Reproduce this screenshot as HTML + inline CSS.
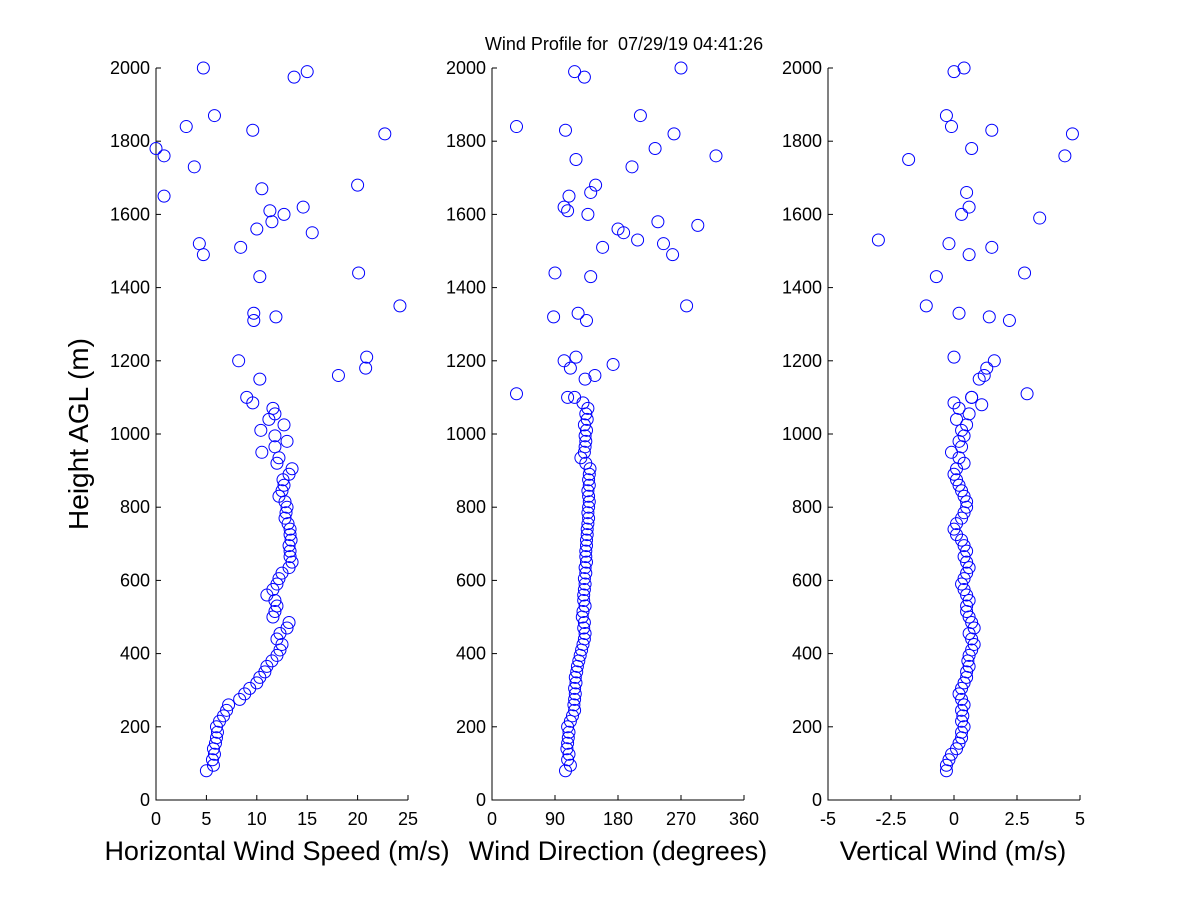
<!DOCTYPE html>
<html><head><meta charset="utf-8"><style>
body{margin:0;background:#fff;}
svg{display:block;font-family:"Liberation Sans",sans-serif;}
text{white-space:pre;}
</style></head><body>
<svg id="chart" width="1200" height="900">
<rect width="1200" height="900" fill="#fff"/>
<text x="624" y="50" font-size="18" text-anchor="middle" xml:space="preserve">Wind Profile for  07/29/19 04:41:26</text>
<text transform="translate(88,434) rotate(-90)" font-size="28" text-anchor="middle">Height AGL (m)</text>
</svg>
<script>
const lowH=[80,95,110,125,140,155,170,185,200,215,230,245,260,275,290,305,320,335,350,365,380,395,410,425,440,455,470,485,500,515,530,545,560,575,590,605,620,635,650,665,680,695,710,725,740,755,770,785,800,815,830,845,860,875,890,905,920,935,950,965,980,995,1010,1025,1040,1055,1070,1085,1100];
const speedLow=[5,5.7,5.6,5.8,5.7,5.9,6,6.1,6,6.3,6.7,7,7.2,8.3,8.8,9.3,10,10.3,10.8,11,11.5,12,12.3,12.5,12,12.3,13,13.2,11.6,11.8,12,11.8,11,11.6,12,12.2,12.5,13.2,13.5,13.3,13.3,13.2,13.4,13.3,13.3,13.1,12.8,12.9,13,12.8,12.2,12.5,12.7,12.6,13.2,13.5,12,12.2,10.5,11.8,13,11.8,10.4,12.7,11.2,11.8,11.6,9.6,9];
const dirLow=[105,112,108,110,107,108,109,110,108,112,115,118,117,118,119,118,120,119,121,122,124,126,128,130,132,133,131,132,129,130,133,131,131,132,133,132,134,133,135,134,134,135,135,136,136,137,138,137,138,139,138,137,139,138,139,140,134,127,132,133,134,133,135,132,136,134,137,130,118];
const vertLow=[-0.3,-0.3,-0.2,-0.1,0.1,0.2,0.3,0.3,0.4,0.3,0.35,0.3,0.4,0.3,0.2,0.3,0.4,0.5,0.5,0.6,0.55,0.6,0.7,0.8,0.7,0.6,0.8,0.7,0.6,0.5,0.5,0.6,0.5,0.4,0.3,0.4,0.5,0.6,0.5,0.4,0.5,0.4,0.3,0.1,0.0,0.1,0.3,0.4,0.5,0.5,0.4,0.3,0.2,0.1,0.0,0.1,0.4,0.2,-0.1,0.3,0.2,0.4,0.3,0.5,0.1,0.6,0.2,0.0,0.7];
const speedUpH=[2000,1990,1975,1870,1840,1830,1820,1780,1760,1730,1680,1670,1650,1620,1610,1600,1580,1560,1550,1520,1510,1490,1430,1440,1350,1330,1310,1320,1210,1200,1180,1160,1150];
const speedUp=[4.7,15,13.7,5.8,3,9.6,22.7,0,0.8,3.8,20,10.5,0.8,14.6,11.3,12.7,11.5,10,15.5,4.3,8.4,4.7,10.3,20.1,24.2,9.7,9.7,11.9,20.9,8.2,20.8,18.1,10.3];
const dirUpH=[1840,1830,1990,1975,2000,1870,1820,1760,1780,1750,1730,1680,1660,1650,1620,1610,1600,1560,1550,1580,1570,1510,1530,1520,1490,1430,1440,1320,1330,1310,1350,1200,1210,1190,1180,1160,1150,1110,1100];
const dirUp=[35,105,118,132,270,212,260,320,233,120,200,148,141,110,103,108,137,180,188,237,294,158,208,245,258,141,90,88,123,135,278,103,120,173,112,147,133,35,108];
const vertUpH=[1990,2000,1870,1840,1830,1820,1780,1760,1750,1660,1620,1600,1590,1530,1520,1510,1490,1430,1440,1350,1330,1320,1310,1210,1200,1180,1160,1150,1110,1080,1100];
const vertUp=[0,0.4,-0.3,-0.1,1.5,4.7,0.7,4.4,-1.8,0.5,0.6,0.3,3.4,-3,-0.2,1.5,0.6,-0.7,2.8,-1.1,0.2,1.4,2.2,0,1.6,1.3,1.2,1,2.9,1.1,0.7];
const yTicks=[0,200,400,600,800,1000,1200,1400,1600,1800,2000];
const speedTicks=[0,5,10,15,20,25];
const dirTicks=[0,90,180,270,360];
const vertTicks=[-5,-2.5,0,2.5,5];
const vertTickLabels=["-5","-2.5","0","2.5","5"];

const NS="http://www.w3.org/2000/svg";
const svg=document.getElementById('chart');
const yTop=68,yBot=800;
function yS(h){return yBot-(h/2000)*(yBot-yTop);}
function mk(tag,attrs,parent){const e=document.createElementNS(NS,tag);for(const k in attrs)e.setAttribute(k,attrs[k]);(parent||svg).appendChild(e);return e;}

const panels=[
 {name:'speed',x0:156,x1:408,min:0,max:25,ticks:speedTicks,labels:speedTicks.map(String),title:'Horizontal Wind Speed (m/s)',tx:277,
  series:[[lowH,speedLow],[speedUpH,speedUp]]},
 {name:'direction',x0:492,x1:744,min:0,max:360,ticks:dirTicks,labels:dirTicks.map(String),title:'Wind Direction (degrees)',tx:618,
  series:[[lowH,dirLow],[dirUpH,dirUp]]},
 {name:'vertical',x0:828,x1:1080,min:-5,max:5,ticks:vertTicks,labels:vertTickLabels,title:'Vertical Wind (m/s)',tx:953,
  series:[[lowH,vertLow],[vertUpH,vertUp]]}
];
panels.forEach(p=>{
 const xS=v=>p.x0+(v-p.min)/(p.max-p.min)*(p.x1-p.x0);
 const g=mk('g',{});
 
 
 const ax=mk('path',{d:`M${p.x0},${yTop}V${yBot}H${p.x1}`,stroke:'#000','stroke-width':1,fill:'none'},g);
 
 
 yTicks.forEach(t=>{
  const y=yS(t);
  mk('line',{x1:p.x0,x2:p.x0+5,y1:y,y2:y,stroke:'#000'},g);
  const tl=mk('text',{x:p.x0-6,y:y+6,'font-size':18,'text-anchor':'end'},g);
  tl.textContent=t;
  
  
 });
 p.ticks.forEach((t,i)=>{
  const x=xS(t);
  mk('line',{x1:x,x2:x,y1:yBot,y2:yBot-5,stroke:'#000'},g);
  const tl=mk('text',{x:x,y:yBot+25,'font-size':18,'text-anchor':'middle'},g);
  tl.textContent=p.labels[i];
  
  
 });
 const tt=mk('text',{x:p.tx,y:860,'font-size':27,'text-anchor':'middle'},g);
 tt.textContent=p.title;
 
 
 p.series.forEach(([hs,vs])=>{
  hs.forEach((h,i)=>{
   const c=mk('circle',{cx:xS(vs[i]),cy:yS(h),r:6,fill:'none',stroke:'#0000ff','stroke-width':1},g);
   
   
  });
 });
});
</script>
</body></html>
